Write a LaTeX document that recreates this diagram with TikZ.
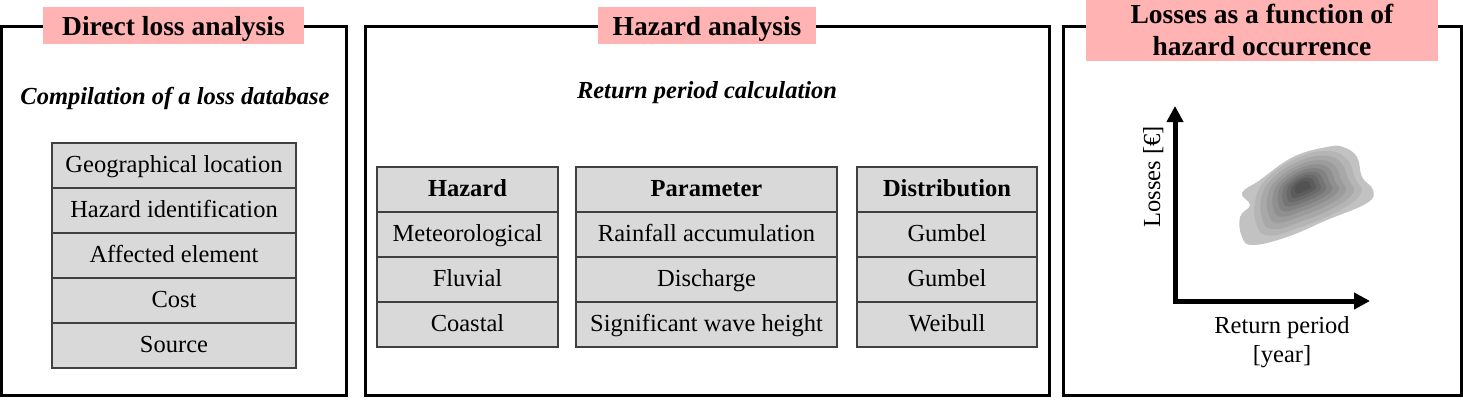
\documentclass[tikz,border=0pt]{standalone}
\usepackage{fontspec}
\setmainfont{Liberation Serif}
\usetikzlibrary{arrows.meta}
\definecolor{pinkhdr}{RGB}{255,179,179}
\definecolor{cellgray}{RGB}{217,217,217}
\definecolor{celledge}{RGB}{64,64,64}
\begin{document}
\begin{tikzpicture}[x=1pt,y=-1pt,
  every node/.style={inner sep=0pt, outer sep=0pt},
  frame/.style={draw=black, line width=3pt},
  hdr/.style={fill=pinkhdr, font=\fontsize{27.5}{32}\selectfont\bfseries},
  hdrone/.style={hdr, text height=21pt, text depth=2pt, minimum height=37pt},
  sub/.style={font=\fontsize{24.5}{29}\selectfont\bfseries\itshape, anchor=base},
  cell/.style={draw=celledge, fill=cellgray, line width=1.2pt, minimum height=45pt,
    text height=17pt, text depth=4pt, font=\fontsize{24.5}{29}\selectfont},
  hcell/.style={cell, font=\fontsize{24.5}{29}\selectfont\bfseries},
  lbl/.style={font=\fontsize{24.5}{29}\selectfont, anchor=base},
  axis/.style={line width=5pt, line join=miter, {Triangle[length=16pt,width=16pt]}-{Triangle[length=16pt,width=16pt]}}]
\useasboundingbox (0,0) rectangle (1463,399);

% frames
\draw[frame] (1.5,26) rectangle (346,395.5);
\draw[frame] (365.5,26) rectangle (1049.5,395.5);
\draw[frame] (1063,26) rectangle (1461,395.5);

% headers
\node[hdrone, minimum width=261pt] (h1) at (173.5,25.5) {Direct loss analysis};
\node[hdrone, minimum width=218pt] (h2) at (707,25.5) {Hazard analysis};
\node[hdr, align=center, minimum width=352pt, minimum height=61pt] (h3) at (1262,30) {Losses as a function of\\hazard occurrence};

% subtitles
\node[sub] (s1) at (175,104) {Compilation of a loss database};
\node[sub] (s2) at (707,98) {Return period calculation};

% left table
\node[cell, minimum width=244pt] (g1) at (174,165.5) {Geographical location};
\node[cell, minimum width=244pt] (g2) at (174,210.5) {Hazard identification};
\node[cell, minimum width=244pt] (g3) at (174,255.5) {Affected element};
\node[cell, minimum width=244pt] (g4) at (174,300.5) {Cost};
\node[cell, minimum width=244pt] (g5) at (174,345.5) {Source};

% hazard table
\node[hcell, minimum width=181pt] (a1) at (467.5,189.5) {Hazard};
\node[cell, minimum width=181pt] (a2) at (467.5,234.5) {Meteorological};
\node[cell, minimum width=181pt] (a3) at (467.5,279.5) {Fluvial};
\node[cell, minimum width=181pt] (a4) at (467.5,324.5) {Coastal};

% parameter table
\node[hcell, minimum width=261pt] (p1) at (706.5,189.5) {Parameter};
\node[cell, minimum width=261pt] (p2) at (706.5,234.5) {Rainfall accumulation};
\node[cell, minimum width=261pt] (p3) at (706.5,279.5) {Discharge};
\node[cell, minimum width=261pt] (p4) at (706.5,324.5) {Significant wave height};

% distribution table
\node[hcell, minimum width=180pt] (d1) at (947,189.5) {Distribution};
\node[cell, minimum width=180pt] (d2) at (947,234.5) {Gumbel};
\node[cell, minimum width=180pt] (d3) at (947,279.5) {Gumbel};
\node[cell, minimum width=180pt] (d4) at (947,324.5) {Weibull};

% density blob: outer contour
\fill[black!24, shift={(1303,185)}]
  plot[smooth cycle, tension=0.7] coordinates {(-61,8) (-43,-5) (-10,-28) (24,-38) (40,-38) (54,-28) (59,-8) (70,5) (64,18) (24,35) (-16,52) (-50,60) (-61,52) (-63,32) (-53,20)};
% inner contours
\foreach \s/\p in {0.92/29,0.8/34,0.68/39,0.57/44,0.47/49,0.38/54,0.3/59,0.22/64,0.14/68}{
  \fill[black!\p, shift={(1302,186)}, scale=\s]
    plot[smooth cycle, tension=0.75] coordinates {(-50,12) (-36,-10) (-6,-30) (26,-38) (48,-30) (58,-8) (64,8) (40,27) (0,44) (-36,54) (-50,40)};
}

% axes
\coordinate (ytip) at (1175,106);
\coordinate (orig) at (1175,301);
\coordinate (xtip) at (1370,301);
\draw[axis] (ytip) -- (orig) -- (xtip);

\node[lbl, rotate=90] (ly) at (1160,177) {Losses [€]};
\node[lbl] (lx1) at (1282,333) {Return period};
\node[lbl] (lx2) at (1282,362) {[year]};
\end{tikzpicture}
\end{document}
